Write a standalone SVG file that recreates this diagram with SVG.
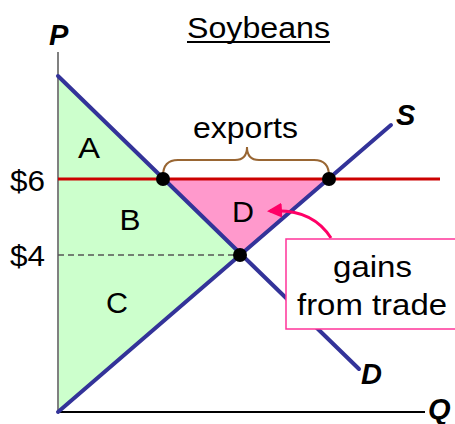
<svg xmlns="http://www.w3.org/2000/svg" width="455" height="424" viewBox="0 0 455 424">
<style>
text{font-family:"Liberation Sans",Arial,sans-serif;fill:#000}
.lbl{font-size:29px}
.ax{font-size:29px;font-weight:bold;font-style:italic}
.curve{stroke:#333399;stroke-width:4;fill:none;stroke-linecap:round}
.dot{fill:#000}
</style>
<defs>
<marker id="ah" viewBox="0 0 10 10" refX="8" refY="5" markerWidth="5" markerHeight="5" orient="auto" markerUnits="strokeWidth">
<path d="M0,0 L10,5 L0,10 z" fill="#ff0066"/>
</marker>
</defs>
<rect width="455" height="424" fill="#fff"/>
<g id="areas">
<polygon points="58,76 240,255 58,412" fill="#ccffcc"/>
<polygon points="163,179 329,179 240,255" fill="#ff99cc"/>
</g>
<g id="axes">
<line x1="58" y1="52" x2="58" y2="412" stroke="#808080" stroke-width="2"/>
<line x1="57" y1="412" x2="425" y2="412" stroke="#000" stroke-width="2"/>
</g>
<g id="connectors">
<line x1="58" y1="255" x2="240" y2="255" stroke="#555" stroke-width="1.5" stroke-dasharray="6,4"/>
<line x1="58" y1="179" x2="440" y2="179" stroke="#cc0000" stroke-width="3"/>
<path id="demand" class="curve" d="M58,76 L359,369"/>
<path id="supply" class="curve" d="M58,412 L391,125"/>
<path id="brace" d="M163,176 Q163,160 178,160 L235,160 Q247,160 247,147 Q247,160 259,160 L314,160 Q329,160 329,176" fill="none" stroke="#996633" stroke-width="2"/>
<path id="arrow" d="M331,238 Q312,208 270,211" fill="none" stroke="#ff0066" stroke-width="3" marker-end="url(#ah)"/>
</g>
<g id="dots">
<circle class="dot" cx="163" cy="179" r="7"/>
<circle class="dot" cx="329" cy="179" r="7"/>
<circle class="dot" cx="240" cy="255" r="7"/>
</g>
<g id="title">
<text class="lbl" x="187" y="38" textLength="143" lengthAdjust="spacingAndGlyphs">Soybeans</text>
<line x1="187" y1="42" x2="330" y2="42" stroke="#000" stroke-width="2"/>
</g>
<g id="axis-labels">
<text class="ax" x="49" y="45">P</text>
<text class="ax" x="396" y="125">S</text>
<text class="ax" x="361" y="384">D</text>
<text class="ax" x="428" y="419">Q</text>
</g>
<g id="prices">
<text class="lbl" x="10" y="191" textLength="35" lengthAdjust="spacingAndGlyphs">$6</text>
<text class="lbl" x="10" y="266" textLength="35" lengthAdjust="spacingAndGlyphs">$4</text>
</g>
<g id="region-labels">
<text class="lbl" x="89" y="158" text-anchor="middle" textLength="22" lengthAdjust="spacingAndGlyphs">A</text>
<text class="lbl" x="130" y="230" text-anchor="middle" textLength="21" lengthAdjust="spacingAndGlyphs">B</text>
<text class="lbl" x="117" y="313" text-anchor="middle" textLength="22" lengthAdjust="spacingAndGlyphs">C</text>
<text class="lbl" x="243" y="222" text-anchor="middle" textLength="22" lengthAdjust="spacingAndGlyphs">D</text>
</g>
<g id="exports">
<text class="lbl" x="193" y="138" textLength="105" lengthAdjust="spacingAndGlyphs">exports</text>
</g>
<g id="gains-box">
<rect x="286" y="239" width="175" height="90" fill="#fff" stroke="#ff3399" stroke-width="1.5"/>
<text class="lbl" x="333" y="277" textLength="79" lengthAdjust="spacingAndGlyphs">gains</text>
<text class="lbl" x="297" y="315" textLength="150" lengthAdjust="spacingAndGlyphs">from trade</text>
</g>
</svg>
